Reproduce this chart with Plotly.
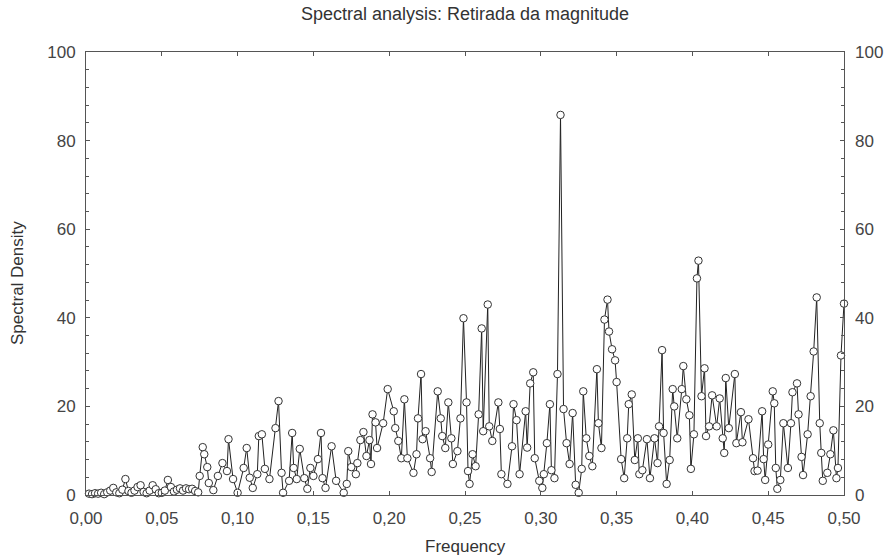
import plotly.graph_objects as go

title_text = "Spectral analysis: Retirada da magnitude"
x_title = "Frequency"
y_title = "Spectral Density"

frequency = [
    0.002, 0.004, 0.006, 0.008, 0.010, 0.012, 0.014, 0.016, 0.018, 0.020,
    0.022, 0.024, 0.026, 0.028, 0.030, 0.032, 0.034, 0.036, 0.038, 0.040,
    0.042, 0.044, 0.046, 0.048, 0.050, 0.052, 0.054, 0.056, 0.058, 0.060,
    0.062, 0.064, 0.066, 0.068, 0.070, 0.072, 0.074,
    0.075, 0.077, 0.078, 0.080, 0.081, 0.084, 0.087, 0.090, 0.093, 0.094,
    0.097, 0.100, 0.104, 0.106, 0.108, 0.110, 0.113, 0.114, 0.116, 0.118,
    0.121, 0.125, 0.127, 0.129, 0.130, 0.134, 0.136, 0.137, 0.139, 0.141,
    0.144, 0.146, 0.148, 0.150, 0.153, 0.155, 0.156, 0.158, 0.162, 0.165,
    0.170, 0.172, 0.173, 0.175, 0.178, 0.179, 0.181, 0.183, 0.185, 0.187,
    0.188, 0.189, 0.191, 0.192,
    0.196, 0.199, 0.203, 0.204, 0.206, 0.208, 0.210, 0.212, 0.216, 0.218,
    0.219, 0.221, 0.222, 0.224, 0.227, 0.228, 0.232, 0.234, 0.235, 0.237,
    0.239, 0.241, 0.242, 0.245, 0.247, 0.249, 0.251, 0.252, 0.253, 0.255,
    0.257, 0.259, 0.261, 0.262, 0.265, 0.266, 0.268, 0.272, 0.273, 0.274,
    0.278, 0.281, 0.282, 0.284, 0.286, 0.290, 0.291, 0.293, 0.295,
    0.296, 0.299, 0.301, 0.302, 0.304, 0.306, 0.307, 0.309, 0.311, 0.313,
    0.315, 0.317, 0.319, 0.321, 0.323, 0.325, 0.327, 0.328, 0.330, 0.332,
    0.334, 0.337, 0.338, 0.340, 0.342, 0.344, 0.345, 0.347, 0.349, 0.350,
    0.353, 0.355, 0.357, 0.358, 0.360, 0.362, 0.364, 0.365, 0.367, 0.370,
    0.372,
    0.375, 0.377, 0.378, 0.380, 0.381, 0.383, 0.385, 0.387, 0.388, 0.390,
    0.393, 0.394, 0.396, 0.398, 0.399, 0.401, 0.403, 0.404, 0.406, 0.408,
    0.409, 0.411, 0.413, 0.416, 0.418, 0.420, 0.421, 0.422, 0.424, 0.428,
    0.429, 0.432, 0.433, 0.437, 0.440, 0.441, 0.443,
    0.446, 0.447, 0.448, 0.450, 0.453, 0.454, 0.455, 0.456, 0.458, 0.460,
    0.463, 0.465, 0.466, 0.469, 0.470, 0.472, 0.473, 0.476, 0.478, 0.480,
    0.482, 0.484, 0.485, 0.486, 0.489, 0.491, 0.493, 0.495, 0.496, 0.498,
    0.500,
]

spectral_density = [
    0.3, 0.2, 0.4, 0.3, 0.5, 0.2, 0.6, 1.0, 1.6, 0.6,
    0.4, 1.2, 3.6, 0.9, 0.5, 1.0, 1.8, 2.2, 0.7, 0.4,
    1.0, 2.2, 1.3, 0.4, 0.5, 1.0, 3.4, 1.8, 0.8, 1.2,
    1.5, 1.0, 1.5, 1.3, 1.4, 0.9, 0.6,
    4.3, 10.8, 9.2, 6.3, 2.7, 1.1, 4.3, 7.2, 5.4, 12.6,
    3.6, 0.5, 6.1, 10.6, 3.9, 1.6, 4.7, 13.3, 13.7, 5.9,
    3.6, 15.1, 21.2, 5.0, 0.5, 3.2, 14.0, 6.1, 3.6, 10.4,
    3.8, 1.4, 6.1, 4.3, 8.1, 14.0, 3.8, 1.6, 11.0, 3.2,
    0.5, 2.5, 9.9, 6.3, 4.7, 7.2, 12.4, 14.2, 8.8, 12.4,
    7.0, 18.2, 16.4, 10.6,
    16.2, 23.9, 18.9, 15.1, 12.2, 8.3, 21.6, 8.3, 5.0, 9.2,
    17.3, 27.3, 12.6, 14.4, 8.3, 5.2, 23.4, 17.3, 13.3, 10.6,
    20.9, 12.8, 7.0, 9.9, 17.3, 39.9, 20.9, 5.4, 2.5, 9.2,
    6.5, 18.2, 37.6, 14.4, 43.0, 15.5, 12.2, 20.9, 14.9, 4.7,
    2.5, 11.0, 20.5, 16.9, 4.7, 18.9, 10.7, 25.2, 27.7,
    8.3, 3.2, 1.6, 4.7, 11.7, 20.5, 5.6, 3.8, 27.3, 85.8,
    19.4, 11.7, 7.0, 18.5, 2.3, 0.5, 5.9, 23.4, 12.8, 8.8,
    6.5, 28.4, 16.2, 10.6, 39.6, 44.1, 36.9, 32.9, 30.4, 25.5,
    8.1, 3.8, 12.8, 20.5, 22.7, 7.9, 12.8, 4.7, 5.6, 12.6,
    3.8,
    12.8, 7.2, 15.5, 32.7, 14.0, 2.5, 7.9, 23.9, 20.0, 12.8,
    23.9, 29.1, 21.6, 18.0, 5.9, 13.7, 48.9, 52.9, 22.3, 28.6,
    13.3, 15.5, 22.5, 15.5, 21.8, 12.8, 9.5, 26.4, 15.1, 27.3,
    11.7, 18.7, 11.9, 17.1, 8.3, 5.4, 5.5,
    18.9, 8.1, 3.4, 11.4, 23.4, 20.7, 6.1, 1.4, 3.4, 16.2,
    6.1, 16.2, 23.2, 25.2, 18.2, 8.6, 4.5, 13.7, 22.3, 32.4,
    44.6, 16.2, 9.5, 3.2, 5.0, 9.2, 14.6, 3.8, 6.1, 31.5,
    43.2,
]

x_range = [0, 0.5]
y_range = [0, 100]

FAMILY = "Liberation Sans, Arial, sans-serif"
tick_font = dict(family=FAMILY, size=17, color="#444")
axis_color = "#555"

fig = go.Figure()
fig.add_trace(go.Scatter(
    x=frequency, y=spectral_density, mode="lines+markers",
    line=dict(color="#222", width=1),
    marker=dict(symbol="circle", size=7.5, color="white",
                line=dict(color="#333", width=1)),
    cliponaxis=False, showlegend=False, hoverinfo="x+y",
))
# helper trace so that the right-hand mirrored axis is drawn
fig.add_trace(go.Scatter(
    x=[frequency[0]], y=[spectral_density[0]], yaxis="y2", mode="markers",
    marker=dict(opacity=0), showlegend=False, hoverinfo="skip",
))

fig.update_layout(
    width=889, height=557,
    margin=dict(l=86, r=45, t=52, b=62, autoexpand=False),
    paper_bgcolor="white", plot_bgcolor="white",
    separators=",.",
    font=tick_font,
    title=dict(text=title_text, xref="paper", x=0.5, xanchor="center",
               yref="container", y=1 - 14 / 557, yanchor="middle",
               font=dict(family=FAMILY, size=18, color="#333")),
    xaxis=dict(range=x_range, dtick=0.05, tick0=0, tickformat=".2f",
               ticks="inside", ticklen=4, tickcolor=axis_color,
               ticklabelstandoff=8, automargin=False,
               showline=True, linecolor=axis_color, linewidth=1, mirror="ticks",
               showgrid=False, zeroline=False, tickfont=tick_font),
    yaxis=dict(range=y_range, dtick=20, tick0=0,
               ticks="inside", ticklen=4, tickcolor=axis_color,
               ticklabelstandoff=6, automargin=False,
               minor=dict(dtick=4, ticks="inside", ticklen=3, tickcolor=axis_color),
               showline=True, linecolor=axis_color, linewidth=1, mirror="ticks",
               showgrid=False, zeroline=False, tickfont=tick_font),
    yaxis2=dict(range=y_range, dtick=20, tick0=0, overlaying="y", side="right",
                ticks="", ticklabelstandoff=10, automargin=False,
                showline=False, showgrid=False, zeroline=False,
                tickfont=tick_font),
    annotations=[
        dict(text=x_title, xref="paper", yref="paper", x=0.5, y=-(546 - 495) / 443,
             xanchor="center", yanchor="middle", showarrow=False,
             font=dict(family=FAMILY, size=17, color="#333")),
        dict(text=y_title, xref="paper", yref="paper", x=(17 - 86) / 758, y=(495 - 283) / 443,
             xanchor="center", yanchor="middle", showarrow=False, textangle=-90,
             font=dict(family=FAMILY, size=17, color="#333")),
    ],
)

fig.write_html("out.html")
